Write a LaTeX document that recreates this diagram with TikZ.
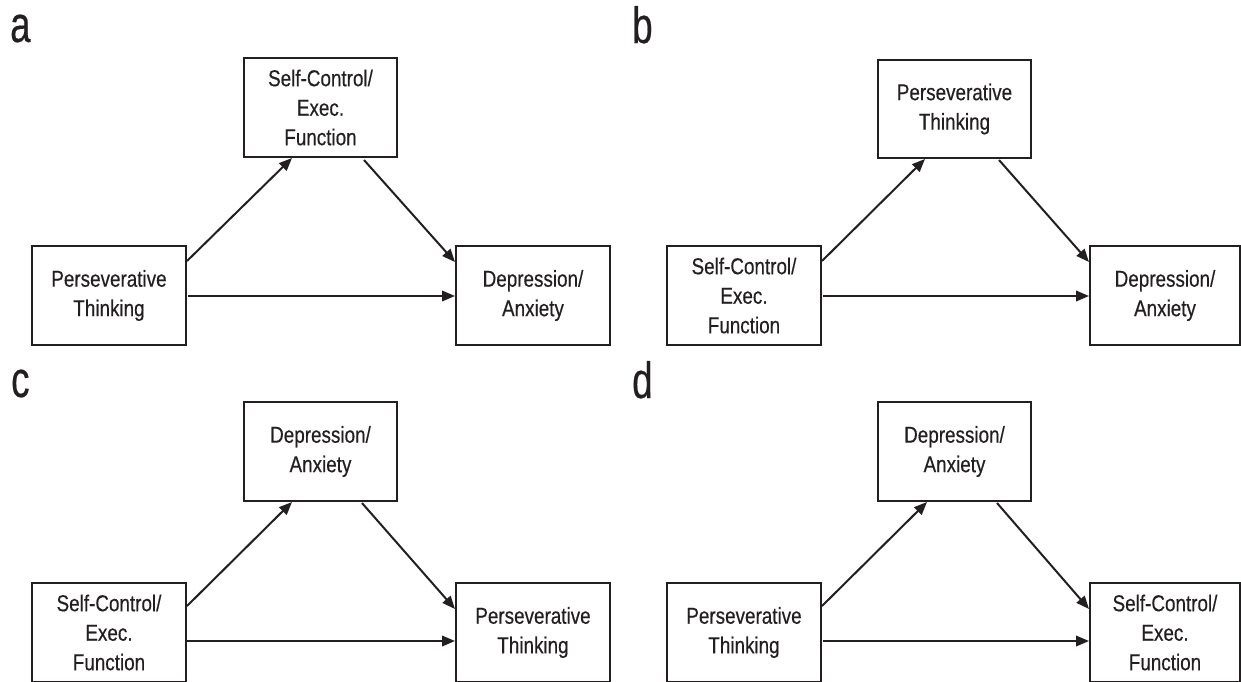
\documentclass[tikz,border=0pt]{standalone}
\usepackage{fontspec}
\setmainfont{Liberation Sans}[FakeStretch=0.82,FakeBold=0.35]
\newfontfamily\panelfont{Liberation Sans}[FakeStretch=0.72,FakeBold=0.4]
\usetikzlibrary{arrows.meta}
\definecolor{ink}{HTML}{231F20}
\begin{document}
\begin{tikzpicture}[x=1pt,y=-1pt,
  box/.style={draw=ink,line width=2pt,fill=white,minimum width=154pt,minimum height=99pt,
    inner sep=0pt,align=center,text=ink,font=\fontsize{23}{29.5}\selectfont},
  plabel/.style={anchor=base west,inner sep=0pt,text=ink,font=\panelfont\fontsize{51}{51}\selectfont},
  arr/.style={draw=ink,line width=2pt,-{Triangle[length=13pt,width=10.5pt]}}]
\useasboundingbox (0,0) rectangle (1241,681);
% ---------- panel a ----------
\node[plabel] (la) at (10,42) {a};
\node[box,minimum width=153pt] (aT) at (320.5,107.5) {Self-Control/\\Exec.\\Function};
\node[box] (aL) at (109,295.5) {Perseverative\\Thinking};
\node[box] (aR) at (533,295.5) {Depression/\\Anxiety};
\draw[arr] ([yshift=-16pt]aL.north east) -- ([xshift=49pt]aT.south west);
\draw[arr] ([xshift=-34pt,yshift=-2pt]aT.south east) -- ([yshift=-17pt]aR.north west);
\draw[arr] ([xshift=1pt,yshift=-0.5pt]aL.east) -- ([yshift=-0.5pt]aR.west);
% ---------- panel b ----------
\node[plabel] (lb) at (632,43) {b};
\node[box,minimum width=153pt,minimum height=98pt] (bT) at (954.5,109) {Perseverative\\Thinking};
\node[box] (bL) at (744,295.5) {Self-Control/\\Exec.\\Function};
\node[box,minimum width=150pt] (bR) at (1165,295.5) {Depression/\\Anxiety};
\draw[arr] ([yshift=-16pt]bL.north east) -- ([xshift=48pt]bT.south west);
\draw[arr] ([xshift=-33pt,yshift=-1pt]bT.south east) -- ([yshift=-17pt]bR.north west);
\draw[arr] ([xshift=1pt,yshift=-0.5pt]bL.east) -- ([yshift=-0.5pt]bR.west);
% ---------- panel c ----------
\node[plabel] (lc) at (11,397) {c};
\node[box,minimum width=153pt] (cT) at (320.5,451.5) {Depression/\\Anxiety};
\node[box] (cL) at (109,632.5) {Self-Control/\\Exec.\\Function};
\node[box] (cR) at (533,632.5) {Perseverative\\Thinking};
\draw[arr] ([yshift=-24pt]cL.north east) -- ([xshift=49pt]cT.south west);
\draw[arr] ([xshift=-36pt,yshift=-1pt]cT.south east) -- ([yshift=-27pt]cR.north west);
\draw[arr] ([yshift=-8.5pt]cL.east) -- ([yshift=-8.5pt]cR.west);
% ---------- panel d ----------
\node[plabel] (ld) at (632,398) {d};
\node[box,minimum width=153pt] (dT) at (954.5,451.5) {Depression/\\Anxiety};
\node[box] (dL) at (744,632.5) {Perseverative\\Thinking};
\node[box,minimum width=150pt] (dR) at (1165,632.5) {Self-Control/\\Exec.\\Function};
\draw[arr] ([yshift=-24pt]dL.north east) -- ([xshift=50pt]dT.south west);
\draw[arr] ([xshift=-35pt,yshift=-1pt]dT.south east) -- ([yshift=-27pt]dR.north west);
\draw[arr] ([yshift=-8.5pt,xshift=1pt]dL.east) -- ([yshift=-8.5pt]dR.west);
\end{tikzpicture}
\end{document}
